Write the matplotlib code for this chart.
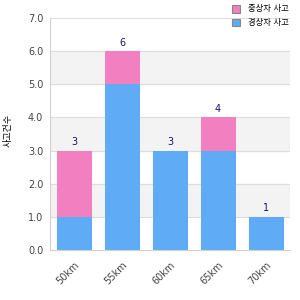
import numpy as np
import matplotlib.pyplot as plt

plt.rcParams['font.family'] = ['DejaVu Sans', 'Noto Sans CJK KR']

categories = ['50km', '55km', '60km', '65km', '70km']
blue_vals = [1, 5, 3, 3, 1]
pink_vals = [2, 1, 0, 1, 0]
pink_name = '중상자 사고'
blue_name = '경상자 사고'
ylabel = '사고건수'

blue = '#5fabf6'
pink = '#f27fbf'

fig = plt.figure(figsize=(3, 3), dpi=100)
ax = fig.add_axes([0.167, 0.167, 0.8, 0.773])

# alternating background bands
for lo in range(1, 7, 2):
    ax.axhspan(lo, lo + 1, color='#f3f3f3', zorder=0)
for yv in range(1, 8):
    ax.axhline(yv, color='#dddddd', lw=0.8, zorder=0.5)

x = np.arange(len(categories))
totals = np.array(blue_vals) + np.array(pink_vals)
ax.bar(x, blue_vals, width=0.73, color=blue, label=blue_name, zorder=2)
ax.bar(x, pink_vals, width=0.73, bottom=blue_vals, color=pink, label=pink_name, zorder=2)
for xi, t in zip(x, totals):
    ax.text(xi, t + 0.1, str(t), ha='center', va='bottom', fontsize=7, color='#14146e')

ax.set_xlim(-0.5, 4.5)
ax.set_ylim(0, 7)
ax.set_yticks(range(8))
ax.set_yticklabels(['%.1f' % v for v in range(8)], fontsize=7, color='#444444')
ax.set_xticks(x)
ax.set_xticklabels(categories, rotation=45, ha='right', rotation_mode='anchor',
                   fontsize=7, color='#444444')
ax.tick_params(axis='y', length=0, pad=5)
ax.tick_params(axis='x', length=0, pad=7)
for s in ['top', 'right']:
    ax.spines[s].set_visible(False)
for s in ['left', 'bottom']:
    ax.spines[s].set_color('#d0d0d0')
fig.text(0.027, 0.565, ylabel, fontsize=6.5, rotation=90, ha='center', va='center')

# legend squares at the top right
fig.patches.append(plt.Rectangle((0.773, 0.958), 0.026, 0.026, transform=fig.transFigure,
                                 facecolor=pink, edgecolor='#888888', lw=0.8))
fig.patches.append(plt.Rectangle((0.773, 0.912), 0.026, 0.026, transform=fig.transFigure,
                                 facecolor=blue, edgecolor='#888888', lw=0.8))
fig.text(0.825, 0.971, pink_name, fontsize=6, va='center')
fig.text(0.825, 0.925, blue_name, fontsize=6, va='center')

fig.savefig('out.png')
